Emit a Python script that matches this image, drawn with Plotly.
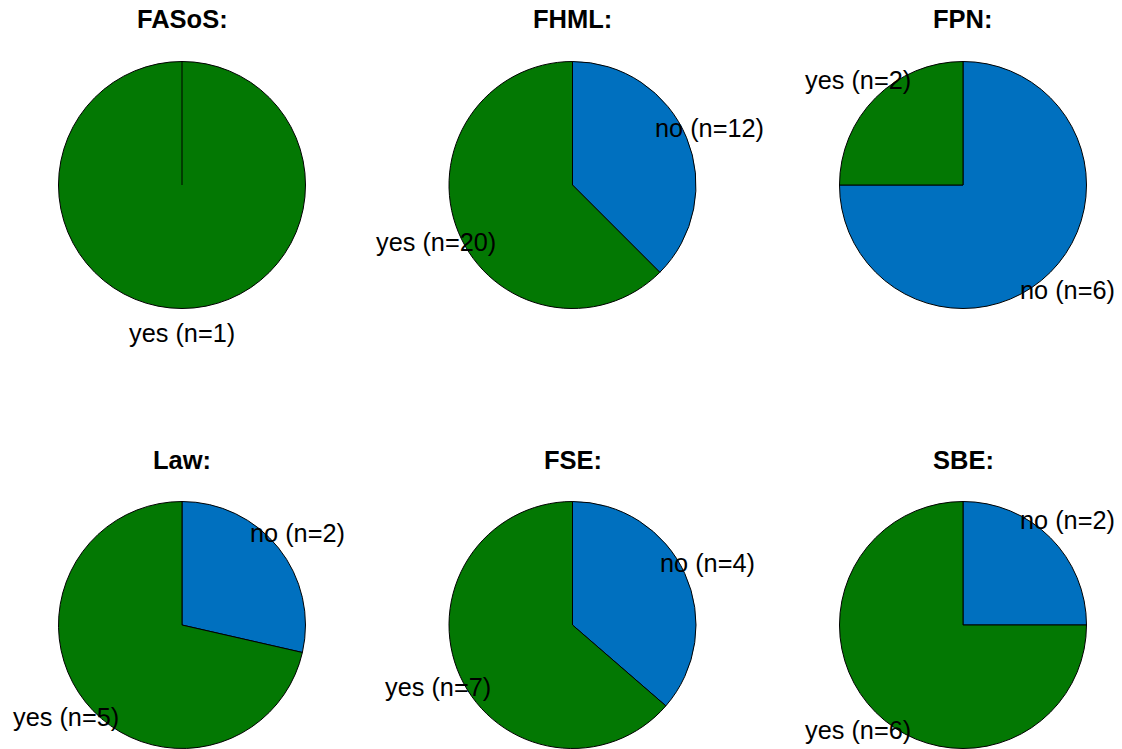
import math
import plotly.graph_objects as go

W, H = 1122, 749

titles = ["FASoS:", "FHML:", "FPN:", "Law:", "FSE:", "SBE:"]
labels = ["no", "yes"]
no_counts = [0, 12, 6, 2, 4, 2]
yes_counts = [1, 20, 2, 5, 7, 6]
colors = ["#0070BF", "#037803"]

# layout geometry (pixels)
centers_x = [182, 572.5, 963]
centers_y = [185, 625]
R = 123.5
label_dist = 1.2
FONT = "Helvetica, Arial, Liberation Sans, sans-serif"

fig = go.Figure()
annotations = []
shapes = []

for i, t in enumerate(titles):
    cx = centers_x[i % 3]
    cy = centers_y[i // 3]
    vals = [no_counts[i], yes_counts[i]]
    fig.add_trace(go.Pie(
        labels=labels, values=vals,
        marker=dict(colors=colors, line=dict(color="black", width=1)),
        sort=False, direction="clockwise", rotation=0,
        textinfo="none", hoverinfo="label+value",
        showlegend=False,
        domain=dict(x=[(cx - R) / W, (cx + R) / W],
                    y=[1 - (cy + R) / H, 1 - (cy - R) / H]),
    ))
    # title
    annotations.append(dict(
        x=cx / W, y=1 - (cy - R - 42) / H, xref="paper", yref="paper",
        text="<b>%s</b>" % t, showarrow=False,
        font=dict(family=FONT, size=25.5, color="black"),
        xanchor="center", yanchor="middle"))
    total = sum(vals)
    start = 0.0
    for lab, v in zip(labels, vals):
        if v == 0:
            continue
        frac = v / total
        mid = (start + frac / 2) * 2 * math.pi  # clockwise from top
        lx = cx + label_dist * R * math.sin(mid)
        ly = cy - label_dist * R * math.cos(mid)
        annotations.append(dict(
            x=lx / W, y=1 - ly / H, xref="paper", yref="paper",
            text="%s (n=%d)" % (lab, v), showarrow=False,
            font=dict(family=FONT, size=25.3, color="black"),
            xanchor="center", yanchor="middle"))
        start += frac
    if min(vals) == 0:
        # slice boundary line at the start angle of a single-slice pie
        shapes.append(dict(type="line", xref="paper", yref="paper",
                           x0=cx / W, y0=1 - cy / H, x1=cx / W, y1=1 - (cy - R) / H,
                           line=dict(color="black", width=1)))

fig.update_layout(
    width=W, height=H,
    margin=dict(l=0, r=0, t=0, b=0),
    paper_bgcolor="white", plot_bgcolor="white",
    annotations=annotations, shapes=shapes,
    font=dict(family=FONT),
)

fig.write_html("out.html",
               config={"displayModeBar": False},
               post_script="document.body.style.margin='0';document.body.style.overflow='hidden';")
